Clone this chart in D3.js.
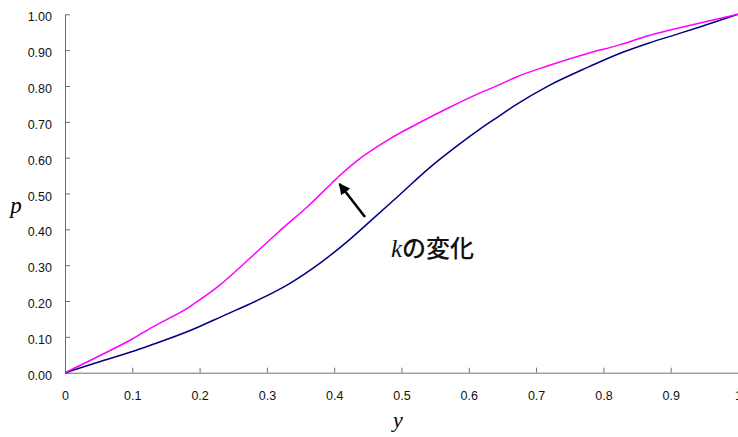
<!DOCTYPE html>
<html>
<head>
<meta charset="utf-8">
<script src="https://cdn.jsdelivr.net/npm/d3@7"></script>
<style>
  html, body { margin: 0; padding: 0; background: #fff; overflow: hidden; }
  svg { display: block; }
</style>
</head>
<body>
<svg id="chart" width="738" height="437"></svg>
<script>
// Upper (magenta) curve
const magentaX = [0, 0.05, 0.1, 0.126, 0.185, 0.2, 0.229, 0.274, 0.318, 0.363, 0.397, 0.407, 0.437, 0.482, 0.527, 0.571, 0.616, 0.645, 0.668, 0.719, 0.779, 0.823, 0.868, 0.912, 0.942, 1.0];
const magentaP = [0, 0.046, 0.094, 0.123, 0.184, 0.203, 0.243, 0.318, 0.394, 0.468, 0.53, 0.548, 0.596, 0.652, 0.698, 0.74, 0.78, 0.803, 0.823, 0.857, 0.892, 0.914, 0.941, 0.962, 0.975, 1.0];
// Lower (navy) curve
const navyX = [0, 0.05, 0.1, 0.126, 0.185, 0.2, 0.234, 0.284, 0.333, 0.382, 0.422, 0.452, 0.497, 0.541, 0.586, 0.616, 0.645, 0.668, 0.719, 0.779, 0.823, 0.868, 0.912, 0.942, 1.0];
const navyP = [0, 0.03, 0.059, 0.076, 0.117, 0.129, 0.158, 0.2, 0.248, 0.31, 0.37, 0.42, 0.496, 0.571, 0.638, 0.679, 0.716, 0.745, 0.801, 0.854, 0.89, 0.92, 0.946, 0.964, 1.0];
const xTicks = [0, 0.1, 0.2, 0.3, 0.4, 0.5, 0.6, 0.7, 0.8, 0.9, 1];
const yTicks = [0, 0.1, 0.2, 0.3, 0.4, 0.5, 0.6, 0.7, 0.8, 0.9, 1.0];
const annotation = "の変化";

const svg = d3.select("#chart");
const x = d3.scaleLinear().domain([0, 1]).range([65, 738]);
const y = d3.scaleLinear().domain([0, 1]).range([372.7, 14.3]);
const axisColor = "#707070";
const numFont = "'Liberation Sans', Arial, sans-serif";

// X axis
const gx = svg.append("g").attr("transform", `translate(0,${y(0)})`)
  .call(d3.axisBottom(x).tickValues(xTicks).tickSizeInner(-5).tickSizeOuter(0)
    .tickPadding(18.5).tickFormat(d => d === 0 ? "0" : d === 1 ? "1" : d3.format(".1f")(d)));
gx.select(".domain").attr("stroke", axisColor);
gx.selectAll(".tick line").attr("stroke", axisColor);
gx.selectAll("text").attr("font-family", numFont).attr("font-size", "12.5px").attr("fill", "#111");

// Y axis
const gy = svg.append("g").attr("transform", `translate(${x(0)},0)`)
  .call(d3.axisLeft(y).tickValues(yTicks).tickSizeInner(-5).tickSizeOuter(0)
    .tickPadding(13).tickFormat(d3.format(".2f")));
gy.select(".domain").attr("stroke", axisColor);
gy.selectAll(".tick line").attr("stroke", axisColor);
gy.selectAll("text").attr("font-family", numFont).attr("font-size", "12.5px").attr("fill", "#111").attr("dy", "0.52em");

// Lines
const line = d3.line().x(d => x(d[0])).y(d => y(d[1])).curve(d3.curveMonotoneX);
svg.append("path").datum(navyX.map((v, i) => [v, navyP[i]]))
  .attr("d", line).attr("fill", "none").attr("stroke", "#000080").attr("stroke-width", 1.5);
svg.append("path").datum(magentaX.map((v, i) => [v, magentaP[i]]))
  .attr("d", line).attr("fill", "none").attr("stroke", "#ff00ff").attr("stroke-width", 1.5);

// Axis titles
svg.append("text").attr("x", 16).attr("y", 213).attr("text-anchor", "middle")
  .attr("font-family", "'Liberation Serif', 'Times New Roman', serif").attr("font-style", "italic")
  .attr("font-size", "23px").text("p");
svg.append("text").attr("x", 398).attr("y", 427).attr("text-anchor", "middle")
  .attr("font-family", "'Liberation Serif', 'Times New Roman', serif").attr("font-style", "italic")
  .attr("font-size", "22px").text("y");

// Annotation text
const ann = svg.append("text").attr("x", 391).attr("y", 257)
  .attr("font-family", "'Noto Sans CJK JP', sans-serif").attr("font-size", "24px")
  .attr("font-weight", 500).attr("fill", "#111");
ann.append("tspan").attr("font-family", "'Liberation Serif', 'Times New Roman', serif")
  .attr("font-style", "italic").attr("font-weight", 400).attr("font-size", "25px").text("k");
ann.append("tspan").text(annotation);

// Arrow
svg.append("defs").append("marker").attr("id", "ah")
  .attr("viewBox", "0 0 10 10").attr("refX", 9).attr("refY", 5)
  .attr("markerWidth", 4.5).attr("markerHeight", 4.5).attr("orient", "auto")
  .append("path").attr("d", "M0,0 L10,5 L0,10 Z").attr("fill", "#000");
svg.append("line").attr("x1", 365).attr("y1", 217).attr("x2", 339.5).attr("y2", 184)
  .attr("stroke", "#000").attr("stroke-width", 2.5).attr("marker-end", "url(#ah)");
</script>
</body>
</html>
